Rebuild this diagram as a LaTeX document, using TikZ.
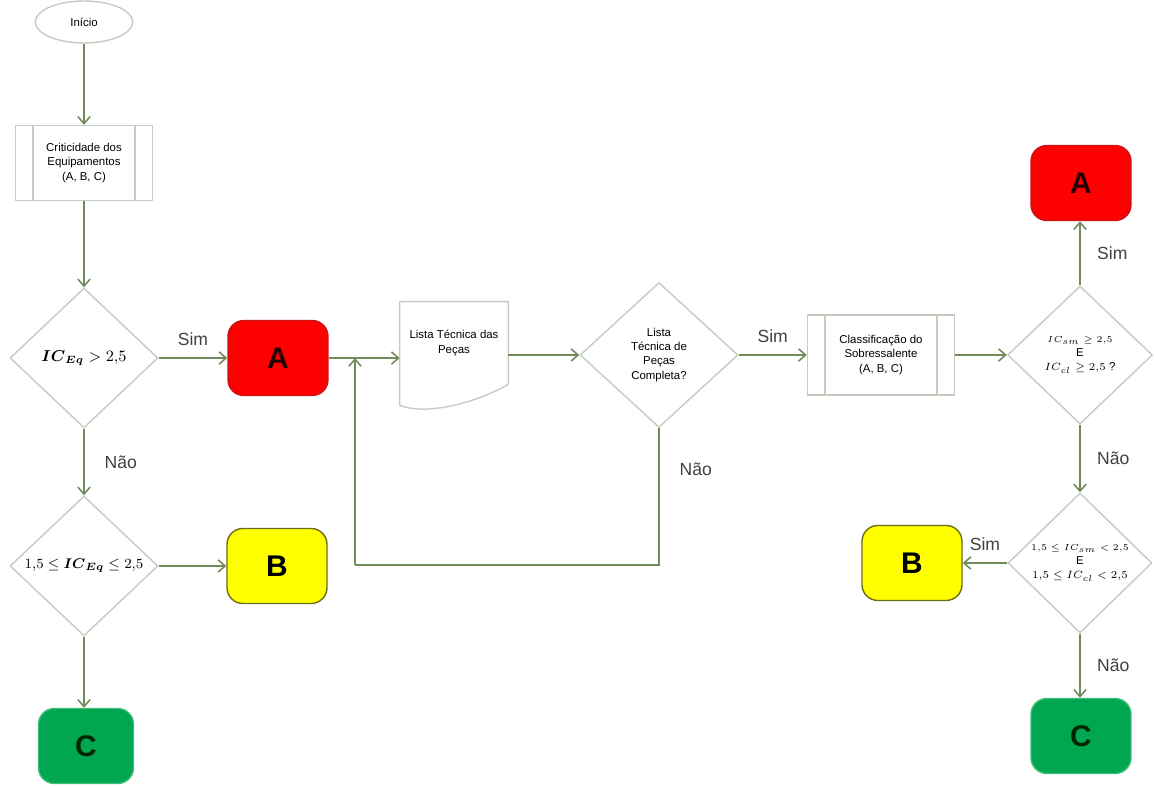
\documentclass[tikz,border=0pt]{standalone}
\usepackage{amsmath}
\usepackage{fontspec}
\setmainfont{Liberation Sans}
\usetikzlibrary{shapes.geometric,arrows.meta,positioning}

\definecolor{lineolive}{RGB}{112,140,92}
\definecolor{edgegray}{RGB}{198,204,192}
\definecolor{termred}{RGB}{255,0,0}
\definecolor{termredline}{RGB}{200,20,20}
\definecolor{termyellow}{RGB}{255,255,0}
\definecolor{termyellowline}{RGB}{110,110,20}
\definecolor{termgreen}{RGB}{0,166,80}
\definecolor{termgreenline}{RGB}{60,190,120}

\begin{document}
\begin{tikzpicture}[x=0.02cm, y=-0.02cm,
		every node/.style = {align=center, font=\fontsize{6.5}{8}\selectfont},
		conn/.style = {draw=lineolive, line width=0.9pt,
			-{Straight Barb[length=4pt,width=7pt]}},
		plainline/.style = {draw=lineolive, line width=0.9pt},
		lbl/.style = {font=\fontsize{10}{12}\selectfont, text=black!75},
		startnode/.style = {ellipse, draw=edgegray, line width=0.8pt,
			minimum width=1.95cm, minimum height=0.84cm},
		procbox/.style = {rectangle, draw=edgegray, line width=0.8pt,
			minimum width=2.74cm, minimum height=1.5cm},
		decision/.style = {diamond, draw=edgegray, line width=0.8pt,
			inner sep=0pt, minimum width=2.96cm, minimum height=2.8cm},
		terminal/.style = {rectangle, rounded corners=9pt, line width=0.8pt,
			minimum width=2cm, minimum height=1.5cm,
			font=\bfseries\fontsize{17}{17}\selectfont},
		tred/.style = {terminal, fill=termred, draw=termredline, text=black!85!red},
		tyellow/.style = {terminal, fill=termyellow, draw=termyellowline},
		tgreen/.style = {terminal, fill=termgreen, draw=termgreenline, text=black!85!green},
		]
		
		\fill[white] (0,0) rectangle (1154,787);
		\useasboundingbox (0,0) rectangle (1154,787);
		
		% left column
		\node[startnode] (ini) at (84,22) {Início};
		\node[procbox] (crit) at (84,163) {Criticidade dos\\Equipamentos\\(A, B, C)};
		\node[decision] (d1) at (84,358) {\fontsize{9}{11}\selectfont$\boldsymbol{IC}_{\boldsymbol{Eq}} > 2{,}5$};
		\node[tred] (a1) at (278,358) {A};
		\node[decision] (d2) at (84,566) {\fontsize{8.5}{10}\selectfont$1{,}5 \leq \boldsymbol{IC}_{\boldsymbol{Eq}} \leq 2{,}5$};
		\node[tyellow] (b1) at (277,566) {B};
		\node[tgreen, minimum width=1.9cm] (c1) at (86,746) {C};
		
		% middle
		\node[minimum width=2.16cm, minimum height=1.64cm] (doc) at (454,343) {Lista Técnica das\\Peças};
		\node[decision, minimum width=3.16cm, minimum height=2.9cm] (d3) at (659,355) {Lista\\Técnica de\\Peças\\Completa?};
		\coordinate (loop) at (355,565);
		
		% right column
		\node[procbox, minimum width=2.94cm, minimum height=1.6cm] (cls) at (881,355) {Classificação do\\Sobressalente\\(A, B, C)};
		\node[decision, minimum width=2.9cm, minimum height=2.76cm] (d4) at (1080,355)
			{\fontsize{5.5}{7}\selectfont$IC_{sm} \geq 2{,}5$\\E\\$IC_{cl} \geq 2{,}5$ ?};
		\node[tred] (a2) at (1081,183) {A};
		\node[decision, minimum width=2.88cm, minimum height=2.8cm] (d5) at (1080,563)
			{\fontsize{5.5}{7}\selectfont$1{,}5 \leq IC_{sm} < 2{,}5$\\E\\$1{,}5 \leq IC_{cl} < 2{,}5$};
		\node[tyellow] (b2) at (912,563) {B};
		\node[tgreen] (c2) at (1081,736) {C};
		
		% box details
		\foreach \bx in {crit,cls} {
			\draw[edgegray, line width=0.8pt] ([xshift=0.36cm]\bx.north west) -- ([xshift=0.36cm]\bx.south west);
			\draw[edgegray, line width=0.8pt] ([xshift=-0.36cm]\bx.north east) -- ([xshift=-0.36cm]\bx.south east);
		}
		\draw[edgegray, line width=0.8pt] (doc.south east) -- (doc.north east) -- (doc.north west)
			-- ([yshift=-0.42cm]doc.south west) .. controls +(25,10) and +(-35,20) .. (doc.south east);
		
		% connectors
		\draw[conn] (ini) -- (crit);
		\draw[conn] (crit) -- (d1);
		\draw[conn] (d1) -- node[lbl, above=3pt] (s1) {Sim} (a1);
		\draw[conn] (d1) -- node[lbl, right=8pt] (n1) {Não} (d2);
		\draw[conn] (d2) -- (d2 -| b1.west);
		\draw[conn] (d2.south) -- (d2.south |- c1.north);
		\draw[conn] (a1.east) -- (a1.east -| doc.west);
		\draw[conn] (doc.east |- d3) -- (d3.west);
		\draw[plainline] (d3.south) -- node[lbl, right=8pt, pos=0.3] (n3) {Não} (d3.south |- loop) -- (loop);
		\draw[conn] (loop) -- (loop |- a1);
		\draw[conn] (d3) -- node[lbl, above=3pt] (s3) {Sim} (cls);
		\draw[conn] (cls) -- (d4);
		\draw[conn] (d4.north) -- node[lbl, right=6pt] (s4) {Sim} (d4.north |- a2.south);
		\draw[conn] (d4) -- node[lbl, right=6pt] (n4) {Não} (d5);
		\draw[conn] (d5) -- node[lbl, above=3pt] (s5) {Sim} (b2);
		\draw[conn] (d5.south) -- node[lbl, right=6pt] (n5) {Não} (d5.south |- c2.north);
		
	\end{tikzpicture}
\end{document}
